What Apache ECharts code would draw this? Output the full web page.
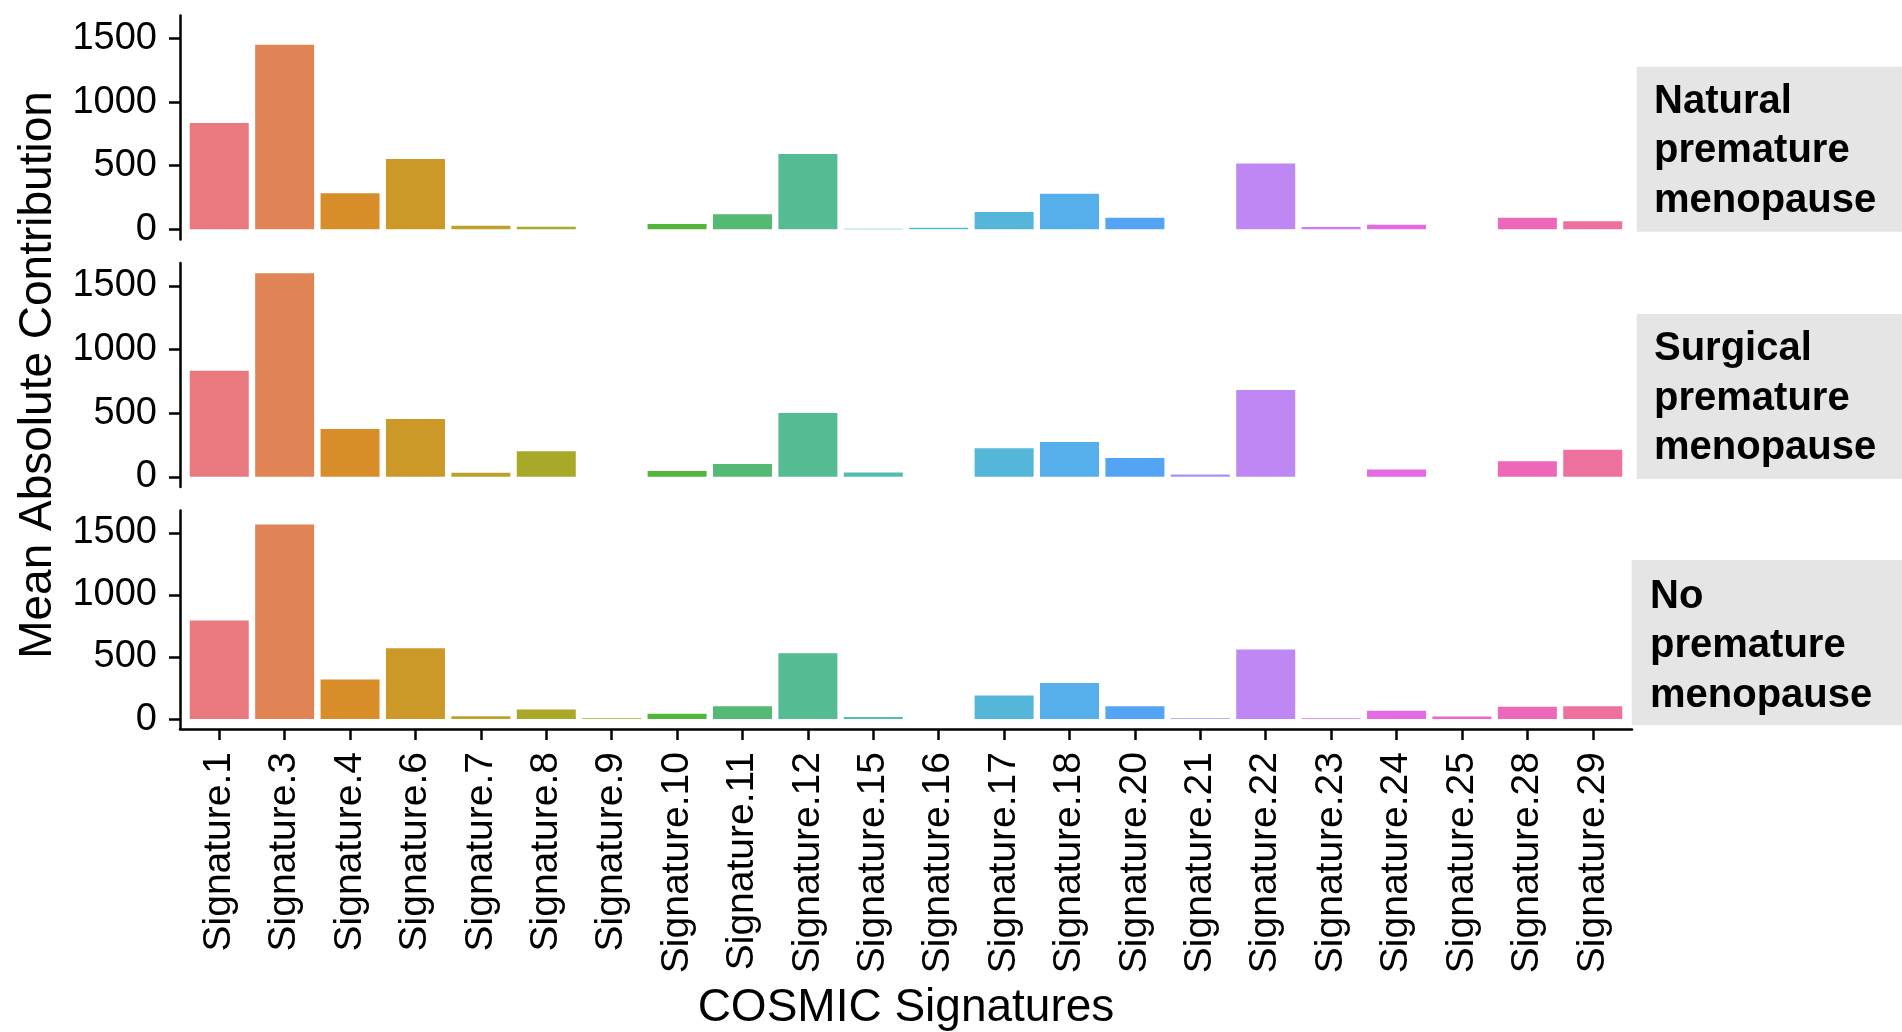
<!DOCTYPE html>
<html>
<head>
<meta charset="utf-8">
<style>
  html, body { margin: 0; padding: 0; background: #fff; }
  #chart { width: 1902px; height: 1032px; }
</style>
<script src="https://cdn.jsdelivr.net/npm/echarts@6/dist/echarts.min.js"></script>
</head>
<body>
<div id="chart"></div>
<script>
// categories
const signatures = [
  'Signature.1', 'Signature.3', 'Signature.4', 'Signature.6', 'Signature.7', 'Signature.8',
  'Signature.9', 'Signature.10', 'Signature.11', 'Signature.12', 'Signature.15', 'Signature.16',
  'Signature.17', 'Signature.18', 'Signature.20', 'Signature.21', 'Signature.22', 'Signature.23',
  'Signature.24', 'Signature.25', 'Signature.28', 'Signature.29'
]
// facet labels
const groups = [
  'Natural\npremature\nmenopause',
  'Surgical\npremature\nmenopause',
  'No\npremature\nmenopause'
]
// values per facet
const naturalValues = [835, 1450, 283, 552, 28, 20, 0, 42, 118, 592, 5, 12, 136, 280, 91, 0, 518, 18, 36, 0, 91, 63]
const surgicalValues = [834, 1600, 375, 454, 31, 200, 0, 45, 100, 501, 34, 0, 225, 273, 147, 18, 682, 0, 58, 0, 123, 212]
const noneValues = [793, 1567, 318, 571, 23, 78, 6, 42, 104, 530, 16, 0, 190, 290, 104, 6, 561, 6, 68, 21, 99, 104]
const yTicks = [0, 500, 1000, 1500]

const panelValues = [naturalValues, surgicalValues, noneValues]
const FONT = '"Liberation Sans", Arial, Helvetica, sans-serif'

// ggplot2 hue palette (hcl c=100 l=65), then toned down like the scanned figure
function hcl2rgb(h, c, l) {
  const hr = h * Math.PI / 180
  const U = c * Math.cos(hr)
  const V = c * Math.sin(hr)
  const Xn = 95.047, Yn = 100, Zn = 108.883
  const d = Xn + 15 * Yn + 3 * Zn
  const un = 4 * Xn / d, vn = 9 * Yn / d
  const Y = l > 8 ? Yn * Math.pow((l + 16) / 116, 3) : Yn * l / 903.3
  const u = U / (13 * l) + un
  const v = V / (13 * l) + vn
  const X = 9 * Y * u / (4 * v)
  const Z = -X / 3 - 5 * Y + 3 * Y / v
  const x = X / 100, y = Y / 100, z = Z / 100
  const lin = [
    3.240479 * x - 1.53715 * y - 0.498535 * z,
    -0.969256 * x + 1.875992 * y + 0.041556 * z,
    0.055648 * x - 0.204043 * y + 1.057311 * z
  ]
  return lin.map(t => {
    const s = t <= 0.0031308 ? 12.92 * t : 1.055 * Math.pow(t, 1 / 2.4) - 0.055
    return Math.max(0, Math.min(1, s)) * 255
  })
}
function toned(rgb) {
  const r = 0.6 * rgb[0] + 84
  const g = 0.9 * rgb[1] + 15
  const b = 0.8 * rgb[2] + 40
  return '#' + [r, g, b].map(v => Math.round(Math.min(255, v)).toString(16).padStart(2, '0')).join('')
}
const palette = signatures.map((_, i) => toned(hcl2rgb(15 + i * 360 / signatures.length, 100, 65)))

const panelTops = [15.5, 263, 510.5]
const panelHeight = 224
const idx = signatures.map((_, i) => i)

const grids = panelTops.map(top => ({
  left: 180,
  right: 270,
  top: top,
  height: panelHeight
}))

const xAxes = panelTops.map((_, i) => {
  const last = i === panelTops.length - 1
  return {
    type: 'value',
    gridIndex: i,
    min: -0.6,
    max: signatures.length - 1 + 0.6,
    splitLine: { show: false },
    axisLine: { show: last, onZero: false, lineStyle: { color: '#000', width: 2.5 } },
    axisTick: { show: last, customValues: idx, length: 11, lineStyle: { color: '#000', width: 2.5 } },
    axisLabel: {
      show: last,
      customValues: idx,
      rotate: 90,
      margin: 23,
      color: '#000',
      fontSize: 39,
      fontFamily: FONT,
      formatter: v => signatures[Math.round(v)]
    },
    name: last ? 'COSMIC Signatures' : '',
    nameLocation: 'middle',
    nameGap: 256,
    nameTextStyle: { color: '#000', fontSize: 46, fontFamily: FONT }
  }
})

const yAxes = panelTops.map((_, i) => ({
  type: 'value',
  gridIndex: i,
  min: -80,
  max: 1680,
  splitLine: { show: false },
  axisLine: { show: true, onZero: false, lineStyle: { color: '#000', width: 2.5 } },
  axisTick: { show: true, customValues: yTicks, length: 11, lineStyle: { color: '#000', width: 2.5 } },
  axisLabel: {
    customValues: yTicks,
    margin: 23,
    color: '#000',
    fontSize: 38,
    fontFamily: FONT,
    formatter: v => String(v)
  },
  name: i === 1 ? 'Mean Absolute Contribution' : '',
  nameLocation: 'middle',
  nameGap: 118,
  nameTextStyle: { color: '#000', fontSize: 46, fontFamily: FONT }
}))

const series = panelValues.map((vals, i) => ({
  type: 'bar',
  xAxisIndex: i,
  yAxisIndex: i,
  colorBy: 'data',
  barWidth: 59,
  data: vals.map((v, k) => [k, v])
}))

// facet strips on the right
const strips = [
  { x: 1636.7, y: 66.7, tx: 1654, ty: 77 },
  { x: 1636.7, y: 314, tx: 1654, ty: 324.5 },
  { x: 1631.7, y: 560, tx: 1650, ty: 572 }
]
const graphic = []
strips.forEach((s, i) => {
  graphic.push({
    type: 'rect',
    shape: { x: s.x, y: s.y, width: 1902 - s.x + 5, height: 165 },
    style: { fill: '#e5e5e5' },
    silent: true
  })
  graphic.push({
    type: 'text',
    x: s.tx,
    y: s.ty,
    silent: true,
    style: {
      text: groups[i],
      fill: '#000',
      fontSize: 40,
      fontWeight: 'bold',
      fontFamily: FONT,
      lineHeight: 49.5,
      verticalAlign: 'top'
    }
  })
})

const chart = echarts.init(document.getElementById('chart'))
chart.setOption({
  animation: false,
  backgroundColor: '#fff',
  color: palette,
  grid: grids,
  xAxis: xAxes,
  yAxis: yAxes,
  series: series,
  graphic: graphic
})
</script>
</body>
</html>
